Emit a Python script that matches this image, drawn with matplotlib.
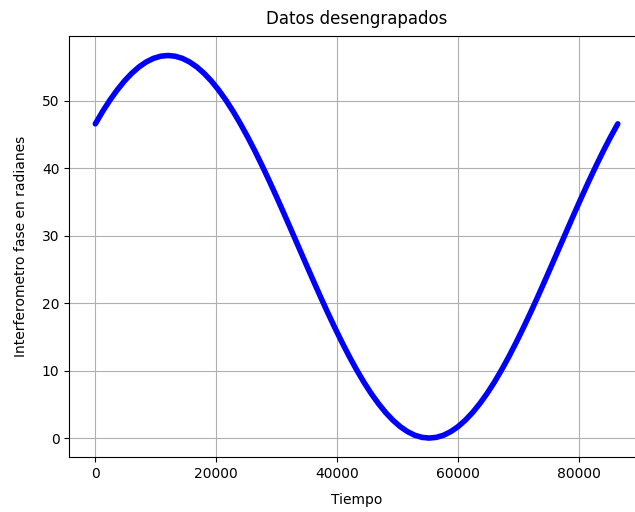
import matplotlib
matplotlib.use('Agg')
import matplotlib.pyplot as plt

# readings every 20 minutes of the unwrapped phase (seconds, radians)
tiempo = list(range(0, 86401, 1200))
fase = [46.57, 48.40, 50.07, 51.57, 52.90, 54.04, 54.99, 55.73, 56.27, 56.59,
        56.70, 56.59, 56.27, 55.73, 54.99, 54.04, 52.90, 51.57, 50.07, 48.40,
        46.57, 44.61, 42.53, 40.33, 38.05, 35.69, 33.27, 30.82, 28.35, 25.88,
        23.43, 21.01, 18.65, 16.37, 14.18, 12.09, 10.13, 8.30, 6.63, 5.13,
        3.80, 2.66, 1.71, 0.97, 0.43, 0.11, 0.00, 0.11, 0.43, 0.97,
        1.71, 2.66, 3.80, 5.13, 6.63, 8.30, 10.13, 12.09, 14.18, 16.37,
        18.65, 21.01, 23.43, 25.88, 28.35, 30.82, 33.27, 35.69, 38.05, 40.33,
        42.53, 44.61, 46.57]

fig = plt.figure(figsize=(6.35, 5.12), dpi=100)
ax = fig.add_axes([0.109, 0.107, 0.905, 0.822])
ax.plot(tiempo, fase, color='blue', linewidth=4, solid_capstyle='round')
ax.set_title('Datos desengrapados', pad=9)
ax.set_xlabel('Tiempo', labelpad=9)
ax.set_ylabel('Interferometro fase en radianes', labelpad=10)
ax.set_yticks([0, 10, 20, 30, 40, 50])
ax.set_xticks([0, 20000, 40000, 60000, 80000])
ax.grid(True)

fig.savefig('out.png', dpi=100)
